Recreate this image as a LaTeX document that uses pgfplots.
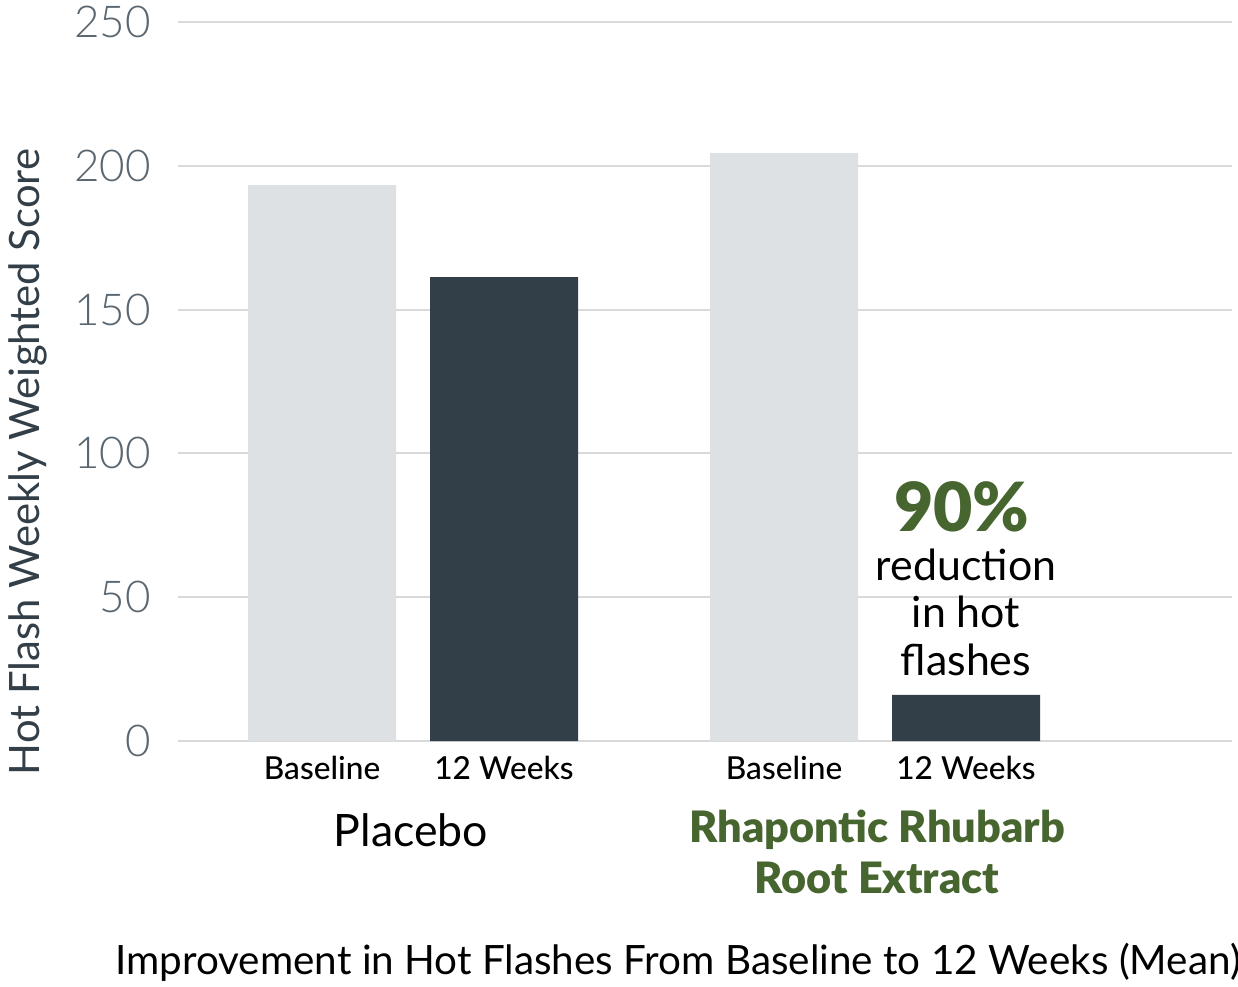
\documentclass[border=0pt]{standalone}
\usepackage{pgfplots}
\pgfplotsset{compat=1.18}
\usepackage{fontspec}
\setmainfont{Lato}
\newfontfamily\lightfont{Lato Light}
\newfontfamily\mediumfont{Lato Medium}
\newfontfamily\blackfont{Lato Black}
\definecolor{barlight}{HTML}{DEE1E4}
\definecolor{bardark}{HTML}{333F48}
\definecolor{gridc}{HTML}{D9D9D9}
\definecolor{tickc}{HTML}{5B6770}
\definecolor{leafgreen}{HTML}{46652F}

\begin{document}
\begin{tikzpicture}[x=0.1mm,y=0.1mm]
\path[use as bounding box] (-178,-245) rectangle (1060,741);
\begin{axis}[
    at={(0,0)}, anchor=south west,
    scale only axis,
    width=105.4mm, height=71.9mm,
    xmin=0, xmax=1054,
    ymin=0, ymax=250,
    ybar, bar width=148,
    clip=false,
    axis line style={draw=none},
    major tick length=0pt,
    ymajorgrids,
    grid style={color=gridc, line width=0.6pt},
    ytick={0,50,100,150,200,250},
    xtick={144,326,606,788},
    xticklabels={Baseline, 12 Weeks, Baseline, 12 Weeks},
    /pgf/number format/assume math mode=true,
    yticklabel style={font=\lightfont\fontsize{12.5}{12.5}\selectfont, color=tickc, xshift=-1.5mm},
    xticklabel style={font=\mediumfont\fontsize{9}{9}\selectfont, color=black, yshift=-0.3mm},
]
% light = baseline, dark = 12 weeks
\addplot[fill=barlight, draw=none, bar shift=0pt] coordinates {(144,193.3) (606,204.4)};
\addplot[fill=bardark, draw=none, bar shift=0pt] coordinates {(326,161.3) (788,16)};

\node[font=\fontsize{12.7}{12.7}\selectfont] at (axis cs:233,-30.9) {Placebo};
\node[font=\blackfont\fontsize{12.3}{12.3}\selectfont, color=leafgreen] at (axis cs:699,-30.9) {Rhapontic Rhubarb};
\node[font=\blackfont\fontsize{12.3}{12.3}\selectfont, color=leafgreen] at (axis cs:699,-47.6) {Root Extract};
\node[font=\blackfont\fontsize{19.3}{19.3}\selectfont, color=leafgreen] at (axis cs:784,81.5) {90\%};
\node[font=\fontsize{12.2}{13.4}\selectfont, align=center, anchor=north]
    at (axis cs:788,71) {reduction\\in hot\\flashes};
\end{axis}
\node[rotate=90, font=\fontsize{11.9}{11.9}\selectfont, color=bardark] at (-150,279) {Hot Flash Weekly Weighted Score};
\node[font=\fontsize{11.5}{11.5}\selectfont, color=black] at (500,-221) {Improvement in Hot Flashes From Baseline to 12 Weeks (Mean)};
\end{tikzpicture}
\end{document}
